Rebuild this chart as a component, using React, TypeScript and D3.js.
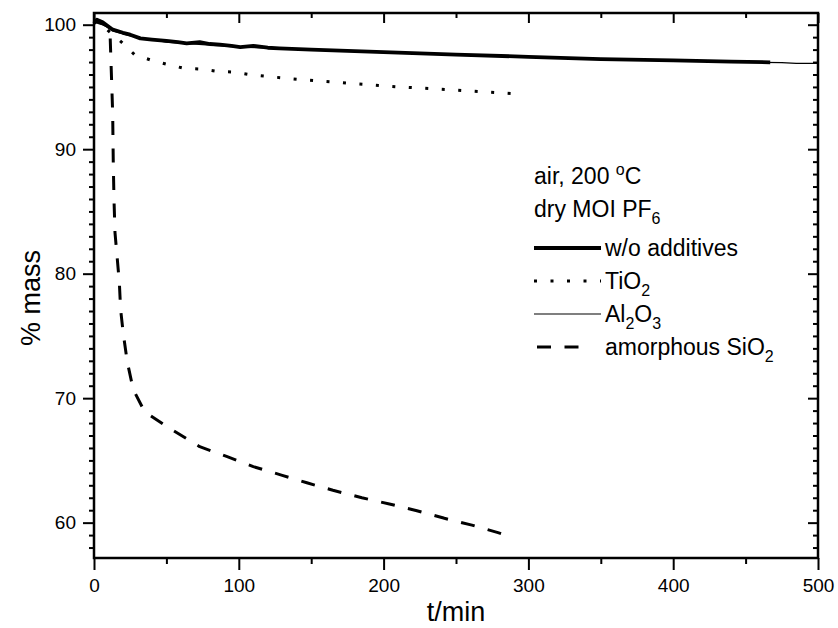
import React, { useEffect, useRef } from "react";
import * as d3 from "d3";

const width = 838;
const height = 628;
const font = "'Liberation Sans', Arial, sans-serif";

// tick labels
const xTicks = [0, 100, 200, 300, 400, 500];
const yTicks = [60, 70, 80, 90, 100];

// w/o additives (thick)
const tNone = [0, 2, 6, 13, 20, 25, 32, 40, 50, 58, 64, 73, 80, 87, 95, 101, 110, 120, 128, 150, 175, 200, 250, 300, 350, 400, 440, 467];
const vNone = [100.1, 100.4, 100.2, 99.6, 99.35, 99.2, 98.9, 98.8, 98.7, 98.6, 98.5, 98.6, 98.45, 98.4, 98.3, 98.2, 98.3, 98.15, 98.1, 98.0, 97.9, 97.8, 97.6, 97.42, 97.24, 97.13, 97.03, 96.98];

// TiO2 (dotted)
const tTi = [0, 5, 10, 19, 28, 40, 51, 62, 74, 85, 96, 108, 119, 142, 175, 211, 250, 291];
const vTi = [100.3, 100.0, 99.5, 98.6, 97.6, 97.13, 96.8, 96.5, 96.44, 96.25, 96.2, 95.98, 95.85, 95.6, 95.3, 95.0, 94.75, 94.45];

// Al2O3 (thin)
const tAl = [0, 5, 13, 25, 50, 100, 150, 200, 300, 400, 460, 475, 485, 500];
const vAl = [100.2, 100.1, 99.5, 99.1, 98.6, 98.2, 98.0, 97.75, 97.4, 97.1, 96.98, 96.95, 96.9, 96.9];

// amorphous SiO2 (dashed)
const tSi = [0, 5, 9, 11, 12.9, 13.3, 13.8, 14.5, 15.7, 17.5, 18.4, 20.2, 23, 27.1, 35, 52, 73, 92, 110, 130, 147, 165, 185, 204, 223, 242, 261, 279, 284];
const vSi = [100.3, 100.1, 99.9, 99.6, 92.9, 89, 86, 83.3, 81.7, 79.3, 77.1, 75.2, 72.9, 70.7, 68.9, 67.6, 66.1, 65.3, 64.5, 63.8, 63.2, 62.6, 62.0, 61.5, 60.96, 60.35, 59.8, 59.2, 59.0];

const series = [
  { t: tAl, v: vAl, width: 1.2, dash: null },
  { t: tTi, v: vTi, width: 3, dash: "3,13.5" },
  { t: tSi, v: vSi, width: 3, dash: "14,13.5" },
  { t: tNone, v: vNone, width: 3.8, dash: null },
];

const App = () => {
  const ref = useRef<SVGGElement>(null);

  useEffect(() => {
    const g = d3.select(ref.current);
    g.selectAll("*").remove();

    const x = d3.scaleLinear().domain([0, 500]).range([94, 818]);
    const y = d3.scaleLinear().domain([57.16, 100.94]).range([558, 13]);

    const xMinor = x.ticks(10).filter((t) => !xTicks.includes(t));
    const yMinor = y.ticks(40).filter((t) => !yTicks.includes(t));

    const tidy = (sel) =>
      sel
        .call((s) => s.select(".domain").remove())
        .call((s) => s.selectAll(".tick line").attr("stroke", "#000").attr("stroke-width", 2))
        .call((s) =>
          s.selectAll("text").attr("font-family", font).attr("font-size", 19).attr("fill", "#000")
        );

    // bottom
    g.append("g").attr("transform", "translate(0,558)")
      .call(d3.axisBottom(x).tickValues(xTicks).tickSize(12).tickPadding(9).tickFormat(d3.format("d")))
      .call(tidy);
    g.append("g").attr("transform", "translate(0,558)")
      .call(d3.axisBottom(x).tickValues(xMinor).tickSize(6).tickFormat(() => ""))
      .call(tidy);
    // top (inward)
    g.append("g").attr("transform", "translate(0,13)")
      .call(d3.axisBottom(x).tickValues(xTicks).tickSize(10).tickFormat(() => ""))
      .call(tidy);
    g.append("g").attr("transform", "translate(0,13)")
      .call(d3.axisBottom(x).tickValues(xMinor).tickSize(5).tickFormat(() => ""))
      .call(tidy);
    // left
    g.append("g").attr("transform", "translate(94,0)")
      .call(d3.axisLeft(y).tickValues(yTicks).tickSize(11).tickPadding(7).tickFormat(d3.format("d")))
      .call(tidy);
    g.append("g").attr("transform", "translate(94,0)")
      .call(d3.axisLeft(y).tickValues(yMinor).tickSize(5).tickFormat(() => ""))
      .call(tidy);
    // right (inward)
    g.append("g").attr("transform", "translate(818,0)")
      .call(d3.axisLeft(y).tickValues(yTicks).tickSize(10).tickFormat(() => ""))
      .call(tidy);
    g.append("g").attr("transform", "translate(818,0)")
      .call(d3.axisLeft(y).tickValues(yMinor).tickSize(5).tickFormat(() => ""))
      .call(tidy);

    // frame
    g.append("rect")
      .attr("x", 94).attr("y", 13)
      .attr("width", 818 - 94).attr("height", 558 - 13)
      .attr("fill", "none").attr("stroke", "#000").attr("stroke-width", 2.5);

    const path = d3.line<[number, number]>().x((d) => x(d[0])).y((d) => y(d[1]));

    series.forEach((s) => {
      g.append("path")
        .datum(s.t.map((t, i) => [t, s.v[i]] as [number, number]))
        .attr("fill", "none")
        .attr("stroke", "#000")
        .attr("stroke-width", s.width)
        .attr("stroke-linejoin", "round")
        .attr("stroke-dasharray", s.dash)
        .attr("d", path);
    });

    // legend samples
    const leg = [
      { yy: 248, x1: 534, x2: 601, s: series[3] },
      { yy: 281, x1: 534, x2: 601, s: series[1] },
      { yy: 314, x1: 534, x2: 601, s: series[0] },
      { yy: 347, x1: 537, x2: 592, s: series[2] },
    ];
    leg.forEach((l) => {
      g.append("line")
        .attr("x1", l.x1).attr("x2", l.x2)
        .attr("y1", l.yy).attr("y2", l.yy)
        .attr("stroke", "#000")
        .attr("stroke-width", l.s.width)
        .attr("stroke-dasharray", l.s.dash);
    });
  }, []);

  const sub = { fontSize: 16 };

  return (
    <svg
      width={width}
      height={height}
      style={{ position: "absolute", left: 0, top: 0, background: "#fff" }}
      fontFamily={font}
    >
      <g ref={ref} />
      <g fontSize={23} fill="#000">
        <text x={534} y={184}>
          air, 200 <tspan dy={-9} style={sub}>o</tspan>
          <tspan dy={9}>C</tspan>
        </text>
        <text x={534} y={217}>
          dry MOI PF<tspan dy={7} style={sub}>6</tspan>
        </text>
        <text x={605} y={256}>w/o additives</text>
        <text x={605} y={289}>
          TiO<tspan dy={7} style={sub}>2</tspan>
        </text>
        <text x={605} y={322}>
          Al<tspan dy={7} style={sub}>2</tspan>
          <tspan dy={-7}>O</tspan>
          <tspan dy={7} style={sub}>3</tspan>
        </text>
        <text x={605} y={355}>
          amorphous SiO<tspan dy={7} style={sub}>2</tspan>
        </text>
      </g>
      <text x={456} y={621} textAnchor="middle" fontSize={27}>t/min</text>
      <text transform="translate(40,298) rotate(-90)" textAnchor="middle" fontSize={27}>% mass</text>
    </svg>
  );
};

export default App;
